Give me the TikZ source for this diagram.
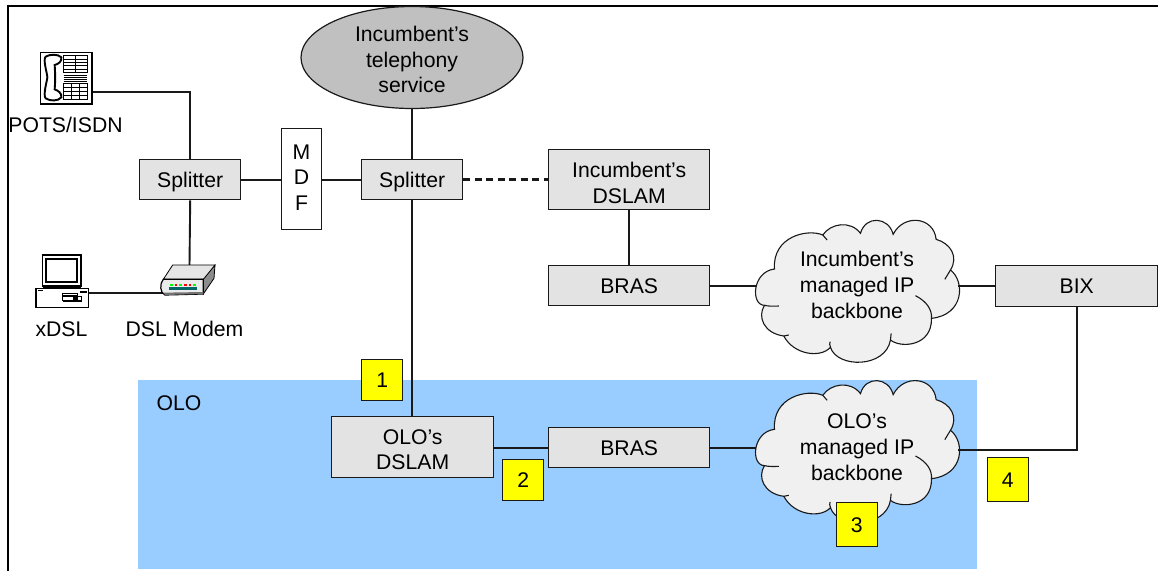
\documentclass[tikz,border=0pt]{standalone}
\usepackage{fontspec}
\usetikzlibrary{shapes.geometric}
\setmainfont{Liberation Sans}
\definecolor{boxgrey}{HTML}{E3E3E3}
\definecolor{cloudgrey}{HTML}{F0F0F0}
\definecolor{ellgrey}{HTML}{C0C0C0}
\definecolor{oloblue}{HTML}{99CCFF}
\definecolor{tagyellow}{HTML}{FFFF00}
\tikzset{
  lab/.style={font=\fontsize{21.2}{25.7}\selectfont,text=black,align=center,inner sep=0pt},
  box/.style={lab,draw=black!90,line width=1.4pt,fill=boxgrey,anchor=north west},
  tag/.style={lab,draw=black!90,line width=1.4pt,fill=tagyellow,anchor=north west},
  conn/.style={draw=black!90,line width=1.9pt},
  cloudtext/.style={lab,minimum width=202pt,minimum height=142pt},
  icon/.style={draw=black,line width=1.2pt,fill=white},
  iconthin/.style={draw=black,line width=.7pt}
}
\newcommand{\pushdown}[1]{\rule{0pt}{#1pt}}
\newcommand{\cloudbody}[2]{%
  \begin{scope}[shift={(#1,#2)},x=.33333pt,y=-.33333pt,shift={(-472,-270)}]
    \path[draw=black!90,line width=1.1pt,fill=cloudgrey]
      (222,207) .. controls (155,215) and (150,315) .. (192,316)
      .. controls (170,350) and (190,400) .. (250,408)
      .. controls (280,465) and (360,475) .. (390,442)
      .. controls (410,505) and (555,505) .. (570,420)
      .. controls (600,445) and (695,440) .. (693,355)
      .. controls (790,345) and (795,245) .. (750,210)
      .. controls (775,170) and (750,130) .. (707,118)
      .. controls (700,50) and (610,40) .. (578,103)
      .. controls (565,50) and (495,45) .. (480,100)
      .. controls (450,60) and (390,70) .. (367,105)
      .. controls (320,85) and (215,110) .. (222,207) -- cycle;
    \draw[black!90,line width=1.1pt]
      (192,316) .. controls (205,319) and (220,319) .. (235,318)
      (250,408) -- (265,405)
      (390,442) .. controls (387,435) and (387,430) .. (389,425)
      (570,420) -- (572,400)
      (645,287) .. controls (680,305) and (695,330) .. (693,355)
      (750,210) -- (733,238)
      (367,105) -- (380,120);
  \end{scope}}
\begin{document}
\begin{tikzpicture}[x=1pt,y=-1pt]
\useasboundingbox (0,0) rectangle (1158,571);
\fill[white] (0,0) rectangle (1158,571);
\fill[oloblue] (138,380) rectangle (977,569);
\draw[black,line width=2pt] (8,571) -- (8,6) -- (1158,6);

% ---- nodes
\node[lab,draw=black!90,line width=1.2pt,fill=ellgrey,ellipse,minimum width=222pt,minimum height=102pt,inner sep=0pt] (tel) at (412,57.5) {\pushdown{19.5}Incumbent’s\\telephony\\service};
\node[box,text depth=0pt,minimum width=101pt,minimum height=40pt] (sp1) at (139,159) {Splitter};
\node[box,text depth=0pt,minimum width=101pt,minimum height=40pt] (sp2) at (361,159) {Splitter};
\node[lab,text depth=3pt,draw=black!90,line width=1pt,fill=white,anchor=north west,minimum width=40pt,minimum height=101pt] (mdf) at (281,128) {M\\D\\F};
\node[box,minimum width=161pt,minimum height=60pt] (dslam) at (548,149) {\pushdown{21.5}Incumbent’s\\DSLAM};
\node[box,minimum width=161pt,minimum height=40pt] (bras1) at (548,265) {BRAS};
\node[box,minimum width=162pt,minimum height=41pt] (bix) at (995,265) {BIX};
\node[box,minimum width=162pt,minimum height=61pt] (olodslam) at (331,416) {\pushdown{20}OLO’s\\DSLAM};
\node[box,minimum width=161pt,minimum height=40pt] (bras2) at (548,427) {BRAS};

\cloudbody{857.8}{290}
\cloudbody{857.8}{450.3}
\node[cloudtext] (cloud1) at (857,285) {Incumbent’s\\managed IP\\backbone};
\node[cloudtext] (cloud2) at (857,447) {OLO’s\\managed IP\\backbone};

\node[lab] (olo) at (179,403) {OLO};
\node[lab] (pots) at (65.5,125) {POTS/ISDN};
\node[lab] (xdsl) at (61.5,329) {xDSL};
\node[lab] (modemlab) at (184.5,329) {DSL Modem};

\coordinate (phone) at (92,92);
\coordinate (pc) at (88,293);
\coordinate (modem) at (165,293);
\coordinate (modemtop) at (189.5,265);

% ---- connectors
\draw[conn] (phone) -| (sp1.north);
\draw[conn] (sp1.south) -- (modemtop);
\draw[conn] (pc) -- (modem);
\draw[conn] (sp1.east) -- (sp1.east-|mdf.west);
\draw[conn] (sp1.east-|mdf.east) -- (sp1.east-|sp2.west);
\draw[conn] (tel.south) -- (tel.south|-sp2.north);
\draw[conn] (sp2.south) -- (sp2.south|-olodslam.north);
\draw[conn,line width=3.2pt,dash pattern=on 7pt off 4.5pt] (sp2.east) -- (sp2.east-|dslam.west);
\draw[conn] (dslam.south) -- (bras1.north);
\draw[conn] (bras1.east) -- (bras1.east-|cloud1.west);
\draw[conn] (bras1.east-|cloud1.east) -- (bras1.east-|bix.west);
\draw[conn] (bix.south) |- ([yshift=-2.7pt]cloud2.east);
\draw[conn] (bras2.west-|olodslam.east) -- (bras2.west);
\draw[conn] (bras2.east) -- (bras2.east-|cloud2.west);

% ---- tags
\node[tag,minimum width=41pt,minimum height=41pt] (t1) at (361,359) {1};
\node[tag,minimum width=41pt,minimum height=41pt] (t2) at (502,459) {2};
\node[tag,minimum width=41pt,minimum height=44pt] (t3) at (835.5,502) {3};
\node[tag,minimum width=41pt,minimum height=44pt] (t4) at (986.5,457) {4};

% ---- telephone icon
\begin{scope}[x=.33333pt,y=-.33333pt]
  \draw[icon,line width=1.4pt] (122,157) rectangle (276,312);
  \draw[black,line width=1.9pt,fill=white]
    (137,170) .. controls (150,162) and (175,162) .. (184,172)
    .. controls (186,185) and (175,192) .. (164,195)
    .. controls (166,225) and (166,245) .. (164,268)
    .. controls (175,272) and (186,280) .. (184,292)
    .. controls (175,304) and (150,304) .. (137,295)
    .. controls (128,285) and (142,240) .. (142,232)
    .. controls (142,220) and (128,180) .. (137,170) -- cycle;
  \draw[iconthin,line width=1pt] (191,167) rectangle (262,217);
  \draw[iconthin,line width=1pt] (191,250) rectangle (262,298);
  \foreach \yy in {177,187,197,207} \draw[iconthin] (191,\yy) -- (262,\yy);
  \foreach \yy in {262,274,286} \draw[iconthin] (191,\yy) -- (262,\yy);
  \draw[iconthin] (226,167) -- (226,217);
  \foreach \xx in {214,238} \draw[iconthin] (\xx,250) -- (\xx,298);
  \foreach \yy in {225,231,237,243} \draw[iconthin,line width=1pt] (191,\yy) -- (260,\yy);
\end{scope}

% ---- computer icon
\begin{scope}[x=.33333pt,y=-.33333pt]
  \draw[icon] (127,765) rectangle (243,858);
  \draw[black,line width=1.8pt,fill=white] (138,778) rectangle (231,845);
  \fill[black] (130,855) rectangle (242,866);
  \draw[icon] (108,865) rectangle (265,922);
  \draw[iconthin] (188,880) rectangle (232,886);
  \draw[iconthin] (188,890) rectangle (245,900);
  \fill[black] (218,890) rectangle (234,900);
  \draw[iconthin] (188,905) -- (245,905);
  \draw[iconthin] (114,872) -- (130,872);
  \fill[black] (240,872) rectangle (262,878);
\end{scope}

% ---- modem icon
\begin{scope}[x=.33333pt,y=-.33333pt]
  \draw[black,line width=.8pt,fill=black!45] (610,835) -- (645,795) -- (642,835) -- (610,882) -- cycle;
  \draw[black,line width=.8pt,fill=black!10] (518,795) -- (645,795) -- (610,838) -- (490,838) -- cycle;
  \draw[black,line width=1.2pt,fill=black!8] (490,838) -- (610,838) -- (610,882) -- (495,885) .. controls (480,880) and (478,850) .. (490,838) -- cycle;
  \fill[black!55] (490,878) -- (610,876) -- (610,882) -- (495,885) -- cycle;
  \fill[teal!80!black] (506,860) rectangle (592,871);
  \foreach \xx/\cc in {510/green,524/red,538/green,552/red,566/red,580/green}
    \fill[\cc] (\xx,852) rectangle (\xx+8,858);
\end{scope}
\end{tikzpicture}
\end{document}
